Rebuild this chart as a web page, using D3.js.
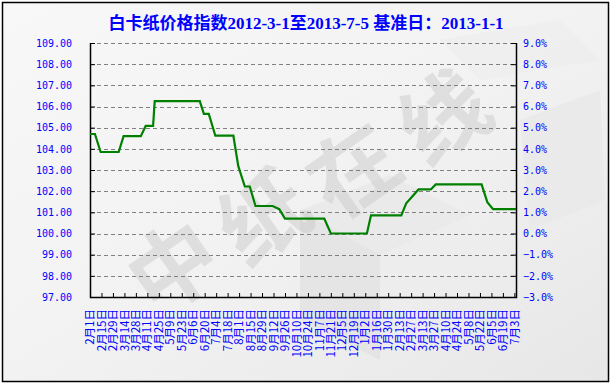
<!DOCTYPE html>
<html><head><meta charset="utf-8">
<script src="https://cdn.jsdelivr.net/npm/d3@7"></script>
<style>body{margin:0;background:#fff}svg{display:block}</style>
</head><body>
<svg id="c" width="612" height="385"></svg>
<script>
const titleText = "白卡纸价格指数2012-3-1至2013-7-5 基准日：2013-1-1";
const dates = ["2012-02-01","2012-02-07","2012-02-14","2012-03-07","2012-03-13","2012-04-03","2012-04-09","2012-04-18","2012-04-20","2012-06-14","2012-06-19","2012-06-25","2012-07-03","2012-07-25","2012-07-31","2012-08-08","2012-08-14","2012-08-21","2012-09-11","2012-09-19","2012-09-26","2012-11-13","2012-11-21","2013-01-04","2013-01-09","2013-02-15","2013-02-21","2013-03-08","2013-03-23","2013-03-29","2013-05-24","2013-05-31","2013-06-07","2013-07-05"];
const values = [104.70,104.70,103.85,103.85,104.60,104.60,105.08,105.08,106.25,106.25,105.65,105.65,104.62,104.62,103.18,102.22,102.22,101.30,101.30,101.15,100.70,100.70,100.00,100.00,100.86,100.86,101.43,102.08,102.08,102.32,102.32,101.48,101.15,101.15];
const xTickDates = ["2012-02-01","2012-02-15","2012-02-29","2012-03-14","2012-03-28","2012-04-11","2012-04-25","2012-05-09","2012-05-23","2012-06-06","2012-06-20","2012-07-04","2012-07-18","2012-08-01","2012-08-15","2012-08-29","2012-09-12","2012-09-26","2012-10-10","2012-10-24","2012-11-07","2012-11-21","2012-12-05","2012-12-19","2013-01-02","2013-01-16","2013-01-30","2013-02-13","2013-02-27","2013-03-13","2013-03-27","2013-04-10","2013-04-24","2013-05-08","2013-05-22","2013-06-05","2013-06-19","2013-07-03"];
const leftTicks = [97,98,99,100,101,102,103,104,105,106,107,108,109];
const rightTicks = [-3,-2,-1,0,1,2,3,4,5,6,7,8,9];
const xDomain = ["2012-02-01","2013-07-05"];
const watermark = ["中","纸","在","线"];

const parse = d3.utcParse("%Y-%m-%d");
const fmtLabel = d3.utcFormat("%-m月%-d日");
const svg = d3.select("#c");
const W = 612, H = 385;
const L = 90, R = 516, T = 43, B = 297;

// background
const defs = svg.append("defs");
const g1 = defs.append("linearGradient").attr("id","bg").attr("x1","0").attr("y1","0").attr("x2","1").attr("y2","1");
g1.append("stop").attr("offset","0").attr("stop-color","#f8f8f8");
g1.append("stop").attr("offset","0.5").attr("stop-color","#f2f2f2");
g1.append("stop").attr("offset","1").attr("stop-color","#e7e7e7");
svg.append("rect").attr("x",0).attr("y",0).attr("width",W).attr("height",H).attr("fill","#fff");
svg.append("rect").attr("x",3).attr("y",3).attr("width",605).attr("height",378).attr("fill","url(#bg)");

// faint 3D shapes
const shapes = [
  [[300,210],[390,175],[470,215],[380,255]],
  [[300,210],[380,255],[380,360],[300,320]],
  [[380,255],[470,215],[470,330],[380,360]],
  [[520,120],[600,90],[605,200],[530,230]],
  [[440,40],[560,20],[600,60],[480,80]]
];
const shadeCols = ["#e9e9e9","#e2e2e2","#ececec","#e8e8e8","#eeeeee"];
svg.selectAll("polygon.sh").data(shapes).join("polygon").attr("class","sh")
  .attr("points", d => d.map(p=>p.join(",")).join(" "))
  .attr("fill",(d,i)=>shadeCols[i]).attr("opacity",0.8);

// watermark
const wmPos = [[170,262],[260,212],[350,165],[440,112]];
svg.selectAll("text.wm").data(watermark).join("text").attr("class","wm")
  .attr("transform",(d,i)=>`translate(${wmPos[i][0]},${wmPos[i][1]}) rotate(-35)`)
  .attr("text-anchor","middle").attr("dominant-baseline","central")
  .attr("font-family","Noto Sans CJK SC").attr("font-size",88).attr("font-weight","bold")
  .attr("fill","#c8c8c8").attr("opacity",0.45).text(d=>d);

// frame
svg.append("rect").attr("x",2.5).attr("y",2.5).attr("width",606).attr("height",379)
  .attr("fill","none").attr("stroke","#000").attr("stroke-width",1.5);

// scales
const x = d3.scaleUtc().domain(xDomain.map(parse)).range([L,R]);
const y = d3.scaleLinear().domain([97,109]).range([B,T]);
const y2 = d3.scaleLinear().domain([-3,9]).range([B,T]);

// gridlines
svg.append("g").selectAll("line").data(leftTicks.slice(1)).join("line")
  .attr("x1",L).attr("x2",R).attr("y1",d=>Math.round(y(d))+0.5).attr("y2",d=>Math.round(y(d))+0.5)
  .attr("stroke","#808080").attr("stroke-dasharray","4,3");

// left axis
const ga = svg.append("g").attr("transform",`translate(${L},0)`)
  .call(d3.axisRight(y).tickValues(leftTicks).tickSize(5).tickFormat(d3.format(".2f")));
ga.select(".domain").remove();
ga.selectAll(".tick line").attr("stroke","#000");
ga.selectAll(".tick text").attr("x",-18).attr("text-anchor","end")
  .attr("fill","#0000ff").attr("font-family","DejaVu Sans Mono").attr("font-size",10);

// right axis
const gb = svg.append("g").attr("transform",`translate(${R},0)`)
  .call(d3.axisLeft(y2).tickValues(rightTicks).tickSize(5).tickFormat(d=>d3.format(".1f")(d)+"%"));
gb.select(".domain").remove();
gb.selectAll(".tick line").attr("stroke","#000");
gb.selectAll(".tick text").attr("x",7).attr("text-anchor","start")
  .attr("fill","#0000ff").attr("font-family","DejaVu Sans Mono").attr("font-size",10);

// bottom axis
const gx = svg.append("g").attr("transform",`translate(0,${B})`)
  .call(d3.axisTop(x).tickValues(xTickDates.map(parse)).tickSize(4).tickFormat(""));
gx.select(".domain").remove();
gx.selectAll(".tick line").attr("stroke","#000");
svg.append("g").selectAll("text").data(xTickDates).join("text")
  .attr("transform",d=>`translate(${x(parse(d))},309) rotate(-90)`)
  .attr("text-anchor","end").attr("dy","0.36em")
  .attr("font-family","Noto Sans CJK SC").attr("font-size",11.5)
  .attr("fill","#0000ff").text(d=>fmtLabel(parse(d)));

// axis lines
svg.append("path").attr("d",`M${L+0.5},${T}V${B+0.5}H${R+0.5}V${T}`)
  .attr("fill","none").attr("stroke","#000").attr("stroke-width",1.5);

// data line
const data = dates.map((d,i)=>({date:parse(d), v:values[i]}));
svg.append("path").datum(data)
  .attr("d", d3.line().x(d=>x(d.date)).y(d=>y(d.v)))
  .attr("fill","none").attr("stroke","#008000").attr("stroke-width",2.2);

// title
svg.append("text").attr("x",306).attr("y",29).attr("text-anchor","middle")
  .attr("font-family","'Liberation Serif','Noto Sans CJK SC'").attr("font-weight","bold")
  .attr("font-size",17).attr("fill","#0000ff").text(titleText);
</script>
</body></html>
